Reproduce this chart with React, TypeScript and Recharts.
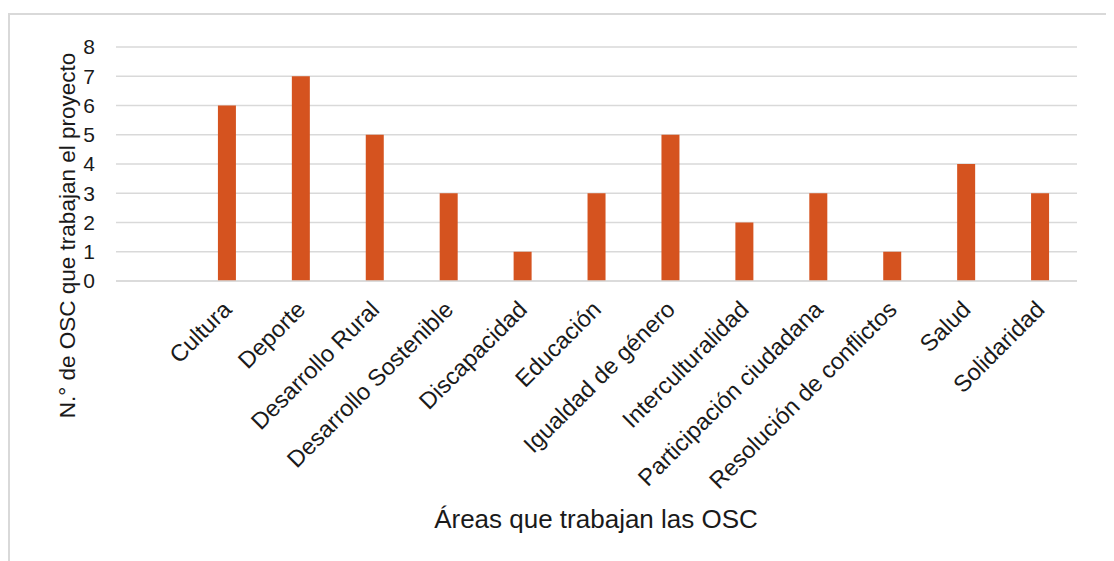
import React from 'react'
import { BarChart, Bar, XAxis, YAxis, CartesianGrid } from 'recharts'

// Áreas de trabajo (la primera categoría queda vacía)
const areas = [
  '',
  'Cultura',
  'Deporte',
  'Desarrollo Rural',
  'Desarrollo Sostenible',
  'Discapacidad',
  'Educación',
  'Igualdad de género',
  'Interculturalidad',
  'Participación ciudadana',
  'Resolución de conflictos',
  'Salud',
  'Solidaridad',
]

const osc = [null, 6, 7, 5, 3, 1, 3, 5, 2, 3, 1, 4, 3]

const yTicks = [0, 1, 2, 3, 4, 5, 6, 7, 8]

const data = areas.map((area, i) => ({ area, osc: osc[i] }))

const FONT = '"Liberation Sans", Arial, Helvetica, sans-serif'
const TEXT = '#1a1a1a'
const GRID = '#d9d9d9'
const BAR = '#d5531f'

function AreaTick(props: any) {
  const { x, y, payload } = props
  if (!payload.value) return null
  return (
    <text
      transform={`translate(${x + 6},${y + 30}) rotate(-45)`}
      textAnchor="end"
      fontSize={23.5}
      fontFamily={FONT}
      fill={TEXT}
    >
      {payload.value}
    </text>
  )
}

function YTitle() {
  return (
    <text
      transform="translate(64.5,220.5) rotate(-90)"
      textAnchor="middle"
      fontSize={22.5}
      fontFamily={FONT}
      fill={TEXT}
    >
      N.° de OSC que trabajan el proyecto
    </text>
  )
}

function XTitle() {
  return (
    <text x={586} y={513} textAnchor="middle" fontSize={26} fontFamily={FONT} fill={TEXT}>
      Áreas que trabajan las OSC
    </text>
  )
}

export default function App() {
  return (
    <div
      style={{
        position: 'relative',
        top: 5,
        width: 1102,
        height: 560,
        border: `2px solid ${GRID}`,
        boxSizing: 'border-box',
        background: '#fff',
      }}
    >
      <BarChart
        width={1098}
        height={556}
        data={data}
        margin={{ top: 32, right: 31, bottom: 0, left: 0 }}
        barSize={18}
      >
        <CartesianGrid vertical={false} stroke={GRID} strokeWidth={1.5} />
        <XAxis
          dataKey="area"
          interval={0}
          height={290}
          tickSize={0}
          tickMargin={0}
          axisLine={{ stroke: GRID, strokeWidth: 1.5 }}
          tick={<AreaTick />}
          label={<XTitle />}
        />
        <YAxis
          width={106}
          domain={[0, 8]}
          ticks={yTicks}
          interval={0}
          axisLine={false}
          tickLine={false}
          tickSize={0}
          tickMargin={21}
          tick={{ fontSize: 21, fontFamily: FONT, fill: TEXT }}
          label={<YTitle />}
        />
        <Bar dataKey="osc" fill={BAR} isAnimationActive={false} />
      </BarChart>
    </div>
  )
}
